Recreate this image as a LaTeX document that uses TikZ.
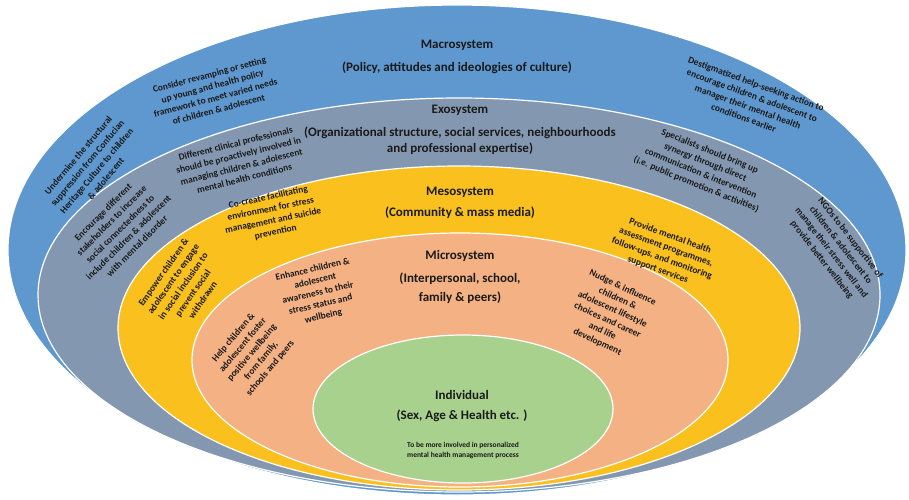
\documentclass[tikz,border=0pt]{standalone}
\usepackage{fontspec}
\setmainfont{Carlito}
\definecolor{macro}{HTML}{5E98CF}
\definecolor{exo}{HTML}{8497B0}
\definecolor{meso}{HTML}{F9C01E}
\definecolor{micro}{HTML}{F4B183}
\definecolor{indiv}{HTML}{A9D18E}
\definecolor{ink}{HTML}{1A1A1A}
\tikzset{
  layer/.style={draw=white, line width=1.2pt},
  title/.style={font=\bfseries\fontsize{13}{16}\selectfont, text=ink, align=center, inner sep=0pt},
  note/.style={font=\bfseries\fontsize{9.4}{12}\selectfont, text=ink, align=center, inner sep=0pt},
}
\begin{document}
\begin{tikzpicture}[x=1pt,y=-1pt]
\useasboundingbox (0,0) rectangle (909,499);
\fill[white] (0,0) rectangle (909,499);

% nested layers of the ecological model
\draw[layer, fill=macro] (457,250) ellipse [x radius=449, y radius=245];
\draw[layer, fill=exo]   (459,295) ellipse [x radius=421, y radius=197];
\draw[layer, fill=meso]  (459,328) ellipse [x radius=341, y radius=162];
\draw[layer, fill=micro] (460,360) ellipse [x radius=268, y radius=127];
\draw[layer, fill=indiv] (463,409) ellipse [x radius=150, y radius=74];

% layer titles
\node[title] (macT) at (457,45) {Macrosystem};
\node[title] (macS) at (457,68) {(Policy, attitudes and ideologies of culture)};
\node[title] (exoT) at (460,110) {Exosystem};
\node[title] (exoS) at (460,141) {(Organizational structure, social services, neighbourhoods\\and professional expertise)};
\node[title] (mesT) at (460,192) {Mesosystem};
\node[title] (mesS) at (460,213) {(Community \& mass media)};
\node[title] (micT) at (460,256) {Microsystem};
\node[title] (micS) at (460,288) {(Interpersonal, school,\\[3pt]family \& peers)};
\node[title] (indT) at (462,395) {Individual};
\node[title] (indS) at (462,416) {(Sex, Age \& Health etc. )};

% macrosystem notes
\node[note, rotate=15] (m1) at (214,92) {Consider revamping or setting\\up young and health policy\\framework to meet varied needs\\of children \& adolescent};
\node[note, rotate=-20] (m2) at (750,101) {Destigmatized help-seeking action to\\encourage children \& adolescent to\\manager their mental health\\conditions earlier};
\node[note, rotate=50] (m3) at (92,167) {Undermine the structural\\suppression from Confucian\\Heritage Culture to children\\\& adolescent};

% exosystem notes
\node[note, rotate=45] (e1) at (120,229) {Encourage different\\stakeholders to increase\\social connectedness to\\include children \& adolescent\\with mental disorder};
\node[note, rotate=14] (e2) at (240,161) {Different clinical professionals\\should be proactively involved in\\managing children \& adolescent\\mental health conditions};
\node[note, rotate=-22] (e3) at (703,168) {Specialists should bring up\\synergy through direct\\communication \& intervention\\(i.e. public promotion \& activities)};
\node[note, rotate=-52] (e4) at (836,249) {NGOs to be supportive of\\children \& adolescent to\\manage their stress well and\\provide better wellbeing};

% mesosystem notes
\node[note, rotate=55] (s1) at (183,286) {Empower children \&\\adolescent to engage\\in social inclusion to\\prevent social\\withdrawn};
\node[note, rotate=12] (s2) at (272,215) {Co-create facilitating\\environment for stress\\management and suicide\\prevention};
\node[note, rotate=-20] (s3) at (664,253) {Provide mental health\\assessment programmes,\\follow-ups, and monitoring\\support services};

% microsystem notes
\node[note, rotate=13] (c1) at (318,293) {Enhance children \&\\adolescent\\awareness to their\\stress status and\\wellbeing};
\node[note, rotate=50] (c2) at (252,353) {Help children \&\\adolescent foster\\positive wellbeing\\from family,\\schools and peers};
\node[note, rotate=-25] (c3) at (610,315) {Nudge \& influence\\children \&\\adolescent  lifestyle\\choices and career\\and life\\development};

% individual note
\node[note, font=\bfseries\fontsize{7.5}{10}\selectfont] (i1) at (463,450) {To be more involved in personalized\\mental health management process};
\end{tikzpicture}
\end{document}
